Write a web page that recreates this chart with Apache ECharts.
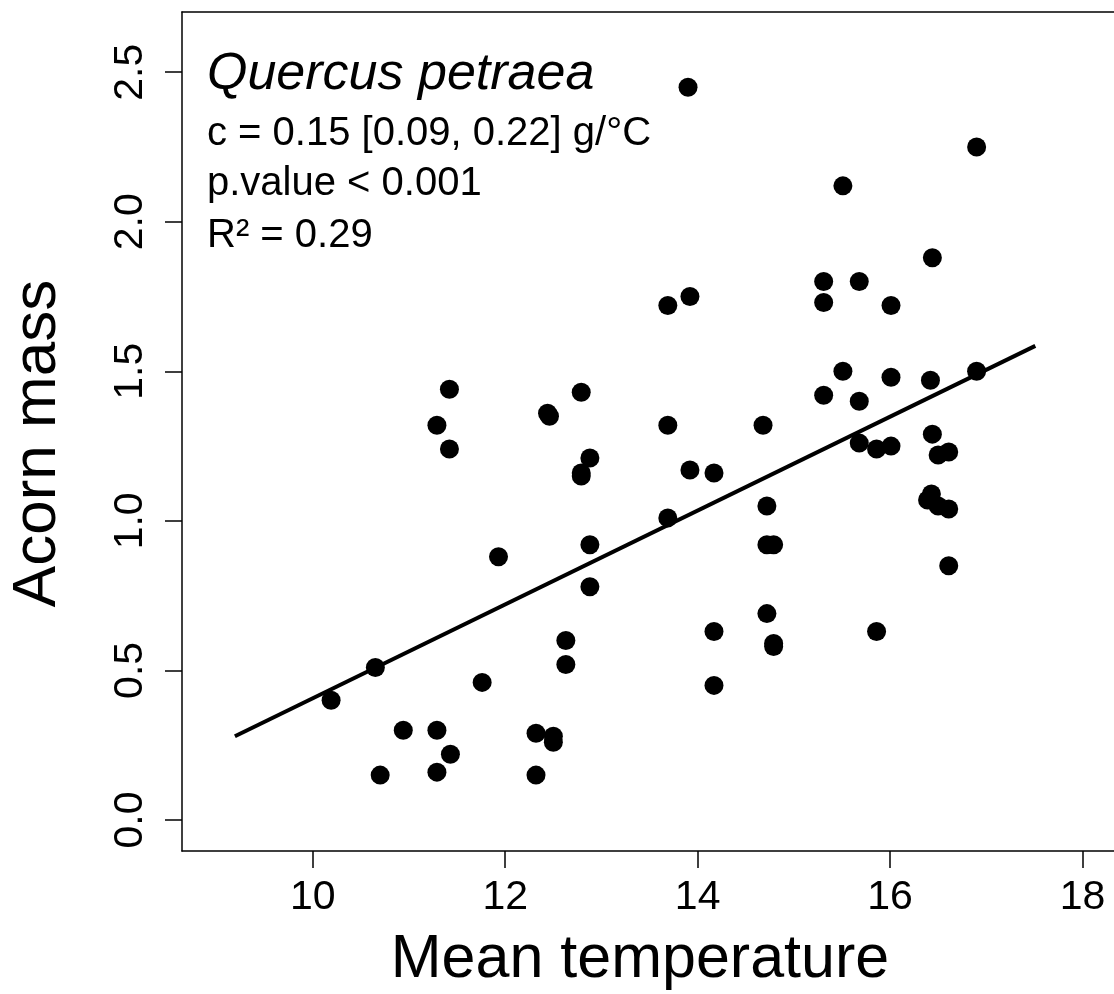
<!DOCTYPE html>
<html>
<head>
<meta charset="utf-8">
<script src="https://cdn.jsdelivr.net/npm/echarts@6/dist/echarts.min.js"></script>
<style>
  html, body { margin: 0; padding: 0; background: #fff; }
  #chart { width: 1114px; height: 994px; }
</style>
</head>
<body>
<div id="chart"></div>
<script>
// Mean temperature (x) and acorn mass (y)
const temperature = [
  10.19, 10.65, 10.70, 10.94, 11.29, 11.29, 11.29, 11.42, 11.42, 11.43,
  11.76, 11.93, 12.32, 12.32, 12.44, 12.46, 12.50, 12.50, 12.63, 12.63,
  12.79, 12.79, 12.79, 12.88, 12.88, 12.88, 13.69, 13.69, 13.69, 13.90,
  13.92, 13.92, 14.17, 14.17, 14.17, 14.68, 14.72, 14.72, 14.79, 14.72,
  14.79, 14.79, 15.31, 15.31, 15.31, 15.51, 15.51, 15.68, 15.68, 15.68,
  15.86, 15.86, 16.01, 16.01, 16.01, 16.44, 16.42, 16.44, 16.50, 16.61,
  16.43, 16.39, 16.50, 16.61, 16.61, 16.90, 16.90
];
const acornMass = [
  0.40, 0.51, 0.15, 0.30, 1.32, 0.30, 0.16, 1.44, 1.24, 0.22,
  0.46, 0.88, 0.29, 0.15, 1.36, 1.35, 0.28, 0.26, 0.60, 0.52,
  1.43, 1.16, 1.15, 1.21, 0.92, 0.78, 1.72, 1.32, 1.01, 2.45,
  1.75, 1.17, 1.16, 0.63, 0.45, 1.32, 1.05, 0.92, 0.92, 0.69,
  0.59, 0.58, 1.80, 1.73, 1.42, 2.12, 1.50, 1.80, 1.40, 1.26,
  1.24, 0.63, 1.72, 1.48, 1.25, 1.88, 1.47, 1.29, 1.22, 1.23,
  1.09, 1.07, 1.05, 1.04, 0.85, 2.25, 1.50
];
// fitted line end points
const fitX = [9.19, 17.51];
const fitY = [0.28, 1.585];

const xTicks = [10, 12, 14, 16, 18];
const yTicks = [0, 0.5, 1.0, 1.5, 2.0, 2.5];

const speciesName = 'Quercus petraea';
const statLines = ['c = 0.15 [0.09, 0.22] g/°C', 'p.value < 0.001', 'R² = 0.29'];
const xTitle = 'Mean temperature';
const yTitle = 'Acorn mass';

const FONT = '"Liberation Sans", Arial, Helvetica, sans-serif';
const X_MIN = 8.64, X_MAX = 18.328;

const points = temperature.map((t, i) => [t, acornMass[i]]);
const fitLine = fitX.map((x, i) => [x, fitY[i]]);

const chart = echarts.init(document.getElementById('chart'), null, { renderer: 'canvas' });

const option = {
  animation: false,
  backgroundColor: '#ffffff',
  grid: { left: 182, right: 0, top: 12, bottom: 143, show: false },
  xAxis: [
    {
      type: 'value', min: X_MIN, max: X_MAX, position: 'bottom',
      axisLine: { show: true, onZero: false, lineStyle: { color: '#000', width: 1.5 } },
      splitLine: { show: false },
      axisTick: { show: true, length: 17, inside: false, customValues: xTicks,
        lineStyle: { color: '#000', width: 1.5 } },
      axisLabel: { show: true, customValues: xTicks, margin: 26,
        color: '#000', fontSize: 41, fontFamily: FONT,
        formatter: v => String(v) }
    },
    {
      type: 'value', min: X_MIN, max: X_MAX, position: 'top',
      axisLine: { show: true, onZero: false, lineStyle: { color: '#000', width: 1.5 } },
      splitLine: { show: false },
      axisTick: { show: false },
      axisLabel: { show: false }
    }
  ],
  yAxis: {
    type: 'value', min: -0.1037, max: 2.7013,
    axisLine: { show: true, onZero: false, lineStyle: { color: '#000', width: 1.5 } },
    splitLine: { show: false },
    axisTick: { show: true, length: 17, inside: false, customValues: yTicks,
      lineStyle: { color: '#000', width: 1.5 } },
    axisLabel: { show: true, customValues: yTicks, margin: 31, rotate: 90,
      color: '#000', fontSize: 41, fontFamily: FONT,
      formatter: v => Number(v).toFixed(1) }
  },
  series: [
    {
      type: 'scatter',
      data: points,
      symbol: 'circle',
      symbolSize: 19,
      itemStyle: { color: '#000', opacity: 1 },
      z: 2
    },
    {
      type: 'line',
      data: fitLine,
      showSymbol: false,
      symbol: 'none',
      lineStyle: { color: '#000', width: 4 },
      z: 3
    }
  ],
  graphic: [
    { type: 'text', x: 207, y: 75, z: 10,
      style: { text: speciesName, font: 'italic 52px ' + FONT, fill: '#000',
        align: 'left', verticalAlign: 'middle' } },
    { type: 'text', x: 207, y: 134, z: 10,
      style: { text: statLines[0], font: '40px ' + FONT, fill: '#000',
        align: 'left', verticalAlign: 'middle' } },
    { type: 'text', x: 207, y: 184, z: 10,
      style: { text: statLines[1], font: '40px ' + FONT, fill: '#000',
        align: 'left', verticalAlign: 'middle' } },
    { type: 'text', x: 207, y: 236, z: 10,
      style: { text: statLines[2], font: '40px ' + FONT, fill: '#000',
        align: 'left', verticalAlign: 'middle' } },
    { type: 'text', x: 640, y: 960, z: 10,
      style: { text: xTitle, font: '61px ' + FONT, fill: '#000',
        align: 'center', verticalAlign: 'middle' } },
    { type: 'text', x: 37.5, y: 443.5, rotation: Math.PI / 2, z: 10,
      style: { text: yTitle, font: '62px ' + FONT, fill: '#000',
        align: 'center', verticalAlign: 'middle' } }
  ]
};

chart.setOption(option);
</script>
</body>
</html>
